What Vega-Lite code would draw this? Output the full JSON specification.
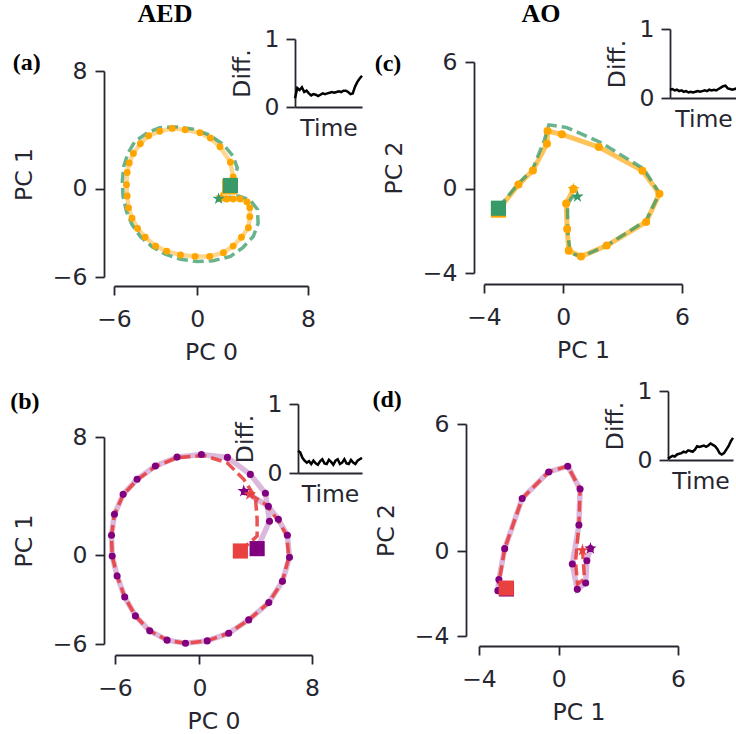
{
"$schema": "https://vega.github.io/schema/vega-lite/v6.json",
"width": 736, "height": 734,
"autosize": {"type": "none"},
"padding": 0,
"background": "white",
"datasets": {
"traj": [
{"p":"a","s":"O","x":2.35,"y":0.25},{"p":"a","s":"O","x":2.6,"y":0.8},{"p":"a","s":"O","x":2.4,"y":1.8},{"p":"a","s":"O","x":1.65,"y":2.85},{"p":"a","s":"O","x":0.95,"y":3.45},{"p":"a","s":"O","x":0.2,"y":3.8},{"p":"a","s":"O","x":-0.87,"y":4.0},{"p":"a","s":"O","x":-1.8,"y":4.1},{"p":"a","s":"O","x":-2.7,"y":3.9},{"p":"a","s":"O","x":-3.5,"y":3.6},{"p":"a","s":"O","x":-4.1,"y":3.05},{"p":"a","s":"O","x":-4.6,"y":2.4},{"p":"a","s":"O","x":-4.9,"y":1.75},{"p":"a","s":"O","x":-5.05,"y":1.1},{"p":"a","s":"O","x":-5.1,"y":0.27},{"p":"a","s":"O","x":-5.05,"y":-0.5},{"p":"a","s":"O","x":-4.95,"y":-1.3},{"p":"a","s":"O","x":-4.7,"y":-2.0},{"p":"a","s":"O","x":-4.3,"y":-2.7},{"p":"a","s":"O","x":-3.75,"y":-3.3},{"p":"a","s":"O","x":-3.0,"y":-3.9},{"p":"a","s":"O","x":-2.2,"y":-4.25},{"p":"a","s":"O","x":-1.2,"y":-4.5},{"p":"a","s":"O","x":-0.15,"y":-4.6},{"p":"a","s":"O","x":0.9,"y":-4.6},{"p":"a","s":"O","x":1.9,"y":-4.35},{"p":"a","s":"O","x":2.6,"y":-3.9},{"p":"a","s":"O","x":3.2,"y":-3.3},{"p":"a","s":"O","x":3.7,"y":-2.65},{"p":"a","s":"O","x":3.8,"y":-1.9},{"p":"a","s":"O","x":3.8,"y":-1.3},{"p":"a","s":"O","x":3.6,"y":-0.9},{"p":"a","s":"O","x":3.1,"y":-0.7},{"p":"a","s":"O","x":2.6,"y":-0.7},{"p":"a","s":"O","x":2.15,"y":-0.7},{"p":"a","s":"O","x":1.7,"y":-0.65},
{"p":"a","s":"G","x":2.45,"y":0.2},{"p":"a","s":"G","x":2.6,"y":0.6},{"p":"a","s":"G","x":2.9,"y":1.4},{"p":"a","s":"G","x":2.6,"y":2.2},{"p":"a","s":"G","x":1.9,"y":3.0},{"p":"a","s":"G","x":0.9,"y":3.65},{"p":"a","s":"G","x":-0.3,"y":4.05},{"p":"a","s":"G","x":-1.45,"y":4.2},{"p":"a","s":"G","x":-2.7,"y":4.15},{"p":"a","s":"G","x":-3.6,"y":3.8},{"p":"a","s":"G","x":-4.5,"y":3.2},{"p":"a","s":"G","x":-5.0,"y":2.4},{"p":"a","s":"G","x":-5.3,"y":1.5},{"p":"a","s":"G","x":-5.4,"y":0.5},{"p":"a","s":"G","x":-5.35,"y":-0.5},{"p":"a","s":"G","x":-5.1,"y":-1.55},{"p":"a","s":"G","x":-4.7,"y":-2.45},{"p":"a","s":"G","x":-4.1,"y":-3.25},{"p":"a","s":"G","x":-3.25,"y":-3.95},{"p":"a","s":"G","x":-2.3,"y":-4.45},{"p":"a","s":"G","x":-1.2,"y":-4.8},{"p":"a","s":"G","x":0.0,"y":-4.95},{"p":"a","s":"G","x":1.15,"y":-4.9},{"p":"a","s":"G","x":2.4,"y":-4.6},{"p":"a","s":"G","x":3.3,"y":-4.0},{"p":"a","s":"G","x":4.05,"y":-3.25},{"p":"a","s":"G","x":4.4,"y":-2.35},{"p":"a","s":"G","x":4.35,"y":-1.4},{"p":"a","s":"G","x":3.8,"y":-0.75},{"p":"a","s":"G","x":3.0,"y":-0.5},{"p":"a","s":"G","x":2.25,"y":-0.6},{"p":"a","s":"G","x":1.6,"y":-0.65},
{"p":"b","s":"P","x":4.1,"y":0.45},{"p":"b","s":"P","x":4.98,"y":2.3},{"p":"b","s":"P","x":4.69,"y":4.19},{"p":"b","s":"P","x":3.62,"y":5.47},{"p":"b","s":"P","x":1.99,"y":6.62},{"p":"b","s":"P","x":0.14,"y":6.82},{"p":"b","s":"P","x":-1.59,"y":6.64},{"p":"b","s":"P","x":-3.13,"y":6.04},{"p":"b","s":"P","x":-4.43,"y":5.14},{"p":"b","s":"P","x":-5.42,"y":4.12},{"p":"b","s":"P","x":-6.04,"y":2.77},{"p":"b","s":"P","x":-6.25,"y":1.35},{"p":"b","s":"P","x":-6.2,"y":-0.05},{"p":"b","s":"P","x":-5.85,"y":-1.4},{"p":"b","s":"P","x":-5.31,"y":-2.82},{"p":"b","s":"P","x":-4.55,"y":-4.1},{"p":"b","s":"P","x":-3.53,"y":-5.11},{"p":"b","s":"P","x":-2.3,"y":-5.74},{"p":"b","s":"P","x":-0.99,"y":-5.95},{"p":"b","s":"P","x":0.55,"y":-5.79},{"p":"b","s":"P","x":2.08,"y":-5.27},{"p":"b","s":"P","x":3.5,"y":-4.37},{"p":"b","s":"P","x":4.93,"y":-3.2},{"p":"b","s":"P","x":5.9,"y":-1.76},{"p":"b","s":"P","x":6.4,"y":-0.14},{"p":"b","s":"P","x":6.25,"y":1.35},{"p":"b","s":"P","x":5.61,"y":2.43},{"p":"b","s":"P","x":4.9,"y":3.31},{"p":"b","s":"P","x":3.2,"y":4.3},
{"p":"b","s":"R","x":2.91,"y":0.29},{"p":"b","s":"R","x":4.1,"y":1.3},{"p":"b","s":"R","x":4.1,"y":2.43},{"p":"b","s":"R","x":3.98,"y":3.9},{"p":"b","s":"R","x":3.15,"y":5.14},{"p":"b","s":"R","x":1.97,"y":6.26},{"p":"b","s":"R","x":0.3,"y":6.75},{"p":"b","s":"R","x":-1.59,"y":6.6},{"p":"b","s":"R","x":-3.13,"y":6.0},{"p":"b","s":"R","x":-4.43,"y":5.1},{"p":"b","s":"R","x":-5.42,"y":4.1},{"p":"b","s":"R","x":-6.04,"y":2.75},{"p":"b","s":"R","x":-6.25,"y":1.35},{"p":"b","s":"R","x":-6.2,"y":-0.05},{"p":"b","s":"R","x":-5.85,"y":-1.4},{"p":"b","s":"R","x":-5.31,"y":-2.82},{"p":"b","s":"R","x":-4.55,"y":-4.1},{"p":"b","s":"R","x":-3.53,"y":-5.11},{"p":"b","s":"R","x":-2.3,"y":-5.74},{"p":"b","s":"R","x":-0.99,"y":-5.95},{"p":"b","s":"R","x":0.55,"y":-5.79},{"p":"b","s":"R","x":2.08,"y":-5.27},{"p":"b","s":"R","x":3.5,"y":-4.37},{"p":"b","s":"R","x":4.93,"y":-3.2},{"p":"b","s":"R","x":5.9,"y":-1.76},{"p":"b","s":"R","x":6.35,"y":-0.14},{"p":"b","s":"R","x":6.2,"y":1.35},{"p":"b","s":"R","x":5.6,"y":2.35},{"p":"b","s":"R","x":4.7,"y":3.45},{"p":"b","s":"R","x":3.58,"y":4.12},
{"p":"c","s":"O","x":-3.27,"y":-1.0},{"p":"c","s":"O","x":-2.26,"y":0.19},{"p":"c","s":"O","x":-1.53,"y":0.86},{"p":"c","s":"O","x":-0.82,"y":2.13},{"p":"c","s":"O","x":-0.79,"y":2.73},{"p":"c","s":"O","x":-0.07,"y":2.57},{"p":"c","s":"O","x":1.8,"y":1.97},{"p":"c","s":"O","x":4.0,"y":0.85},{"p":"c","s":"O","x":4.86,"y":-0.24},{"p":"c","s":"O","x":4.19,"y":-1.58},{"p":"c","s":"O","x":2.2,"y":-2.7},{"p":"c","s":"O","x":0.9,"y":-3.22},{"p":"c","s":"O","x":0.28,"y":-2.94},{"p":"c","s":"O","x":0.2,"y":-1.92},{"p":"c","s":"O","x":0.15,"y":-0.71},{"p":"c","s":"O","x":0.52,"y":-0.02},
{"p":"c","s":"G","x":-3.27,"y":-0.92},{"p":"c","s":"G","x":-2.3,"y":0.2},{"p":"c","s":"G","x":-1.55,"y":0.9},{"p":"c","s":"G","x":-0.95,"y":2.3},{"p":"c","s":"G","x":-0.72,"y":3.02},{"p":"c","s":"G","x":0.19,"y":2.89},{"p":"c","s":"G","x":1.87,"y":2.2},{"p":"c","s":"G","x":4.06,"y":0.94},{"p":"c","s":"G","x":4.86,"y":-0.22},{"p":"c","s":"G","x":4.2,"y":-1.5},{"p":"c","s":"G","x":2.2,"y":-2.7},{"p":"c","s":"G","x":0.89,"y":-3.24},{"p":"c","s":"G","x":0.35,"y":-3.03},{"p":"c","s":"G","x":0.22,"y":-2.0},{"p":"c","s":"G","x":0.22,"y":-0.75},{"p":"c","s":"G","x":0.44,"y":-0.41},{"p":"c","s":"G","x":0.72,"y":-0.38},
{"p":"d","s":"P","x":-2.62,"y":-1.78},{"p":"d","s":"P","x":-3.05,"y":-1.86},{"p":"d","s":"P","x":-3.0,"y":-1.34},{"p":"d","s":"P","x":-2.71,"y":0.12},{"p":"d","s":"P","x":-1.83,"y":2.49},{"p":"d","s":"P","x":-0.5,"y":3.74},{"p":"d","s":"P","x":0.46,"y":4.01},{"p":"d","s":"P","x":1.08,"y":2.93},{"p":"d","s":"P","x":1.02,"y":1.23},{"p":"d","s":"P","x":0.69,"y":-0.6},{"p":"d","s":"P","x":0.94,"y":-1.8},{"p":"d","s":"P","x":1.36,"y":-1.5},{"p":"d","s":"P","x":1.42,"y":-0.45},{"p":"d","s":"P","x":1.6,"y":0.13},
{"p":"d","s":"R","x":-2.63,"y":-1.74},{"p":"d","s":"R","x":-3.0,"y":-1.5},{"p":"d","s":"R","x":-2.71,"y":0.12},{"p":"d","s":"R","x":-1.83,"y":2.49},{"p":"d","s":"R","x":-0.5,"y":3.74},{"p":"d","s":"R","x":0.46,"y":4.01},{"p":"d","s":"R","x":1.08,"y":2.93},{"p":"d","s":"R","x":1.02,"y":1.23},{"p":"d","s":"R","x":0.85,"y":-0.5},{"p":"d","s":"R","x":0.95,"y":-1.55},{"p":"d","s":"R","x":1.3,"y":-1.3},{"p":"d","s":"R","x":1.25,"y":-0.6},{"p":"d","s":"R","x":1.2,"y":0.05}
],
"ends": [
{"p":"a","s":"O","k":"start","x":2.35,"y":0.12},{"p":"a","s":"O","k":"end","x":1.75,"y":-0.6},{"p":"a","s":"G","k":"start","x":2.4,"y":0.22},{"p":"a","s":"G","k":"end","x":1.55,"y":-0.68},
{"p":"b","s":"P","k":"start","x":4.1,"y":0.45},{"p":"b","s":"P","k":"end","x":3.15,"y":4.34},{"p":"b","s":"R","k":"start","x":2.91,"y":0.29},{"p":"b","s":"R","k":"end","x":3.58,"y":4.12},
{"p":"c","s":"O","k":"start","x":-3.27,"y":-1.02},{"p":"c","s":"O","k":"end","x":0.52,"y":-0.02},{"p":"c","s":"G","k":"start","x":-3.27,"y":-0.93},{"p":"c","s":"G","k":"end","x":0.72,"y":-0.38},
{"p":"d","s":"P","k":"start","x":-2.62,"y":-1.78},{"p":"d","s":"P","k":"end","x":1.6,"y":0.13},{"p":"d","s":"R","k":"start","x":-2.63,"y":-1.74},{"p":"d","s":"R","k":"end","x":1.2,"y":0.05}
],
"labels": [
{"p":"a","k":"head","label":"AED","x":-2.32,"y":11.85},{"p":"a","k":"tag","label":"(a)","x":-12.3,"y":8.54},
{"p":"c","k":"head","label":"AO","x":-1.12,"y":8.27},{"p":"c","k":"tag","label":"(c)","x":-8.85,"y":5.9},
{"p":"b","k":"tag","label":"(b)","x":-12.4,"y":10.37},
{"p":"d","k":"tag","label":"(d)","x":-8.62,"y":7.13}
],
"diff": [
{"p":"a","t":0,"v":0.13},{"p":"a","t":1,"v":0.28},{"p":"a","t":2,"v":0.25},{"p":"a","t":3,"v":0.29},{"p":"a","t":4,"v":0.22},{"p":"a","t":5,"v":0.24},{"p":"a","t":6,"v":0.2},{"p":"a","t":7,"v":0.17},{"p":"a","t":8,"v":0.19},{"p":"a","t":9,"v":0.18},{"p":"a","t":10,"v":0.16},{"p":"a","t":11,"v":0.18},{"p":"a","t":12,"v":0.2},{"p":"a","t":13,"v":0.19},{"p":"a","t":14,"v":0.2},{"p":"a","t":15,"v":0.21},{"p":"a","t":16,"v":0.22},{"p":"a","t":17,"v":0.21},{"p":"a","t":18,"v":0.22},{"p":"a","t":19,"v":0.23},{"p":"a","t":20,"v":0.22},{"p":"a","t":21,"v":0.24},{"p":"a","t":22,"v":0.24},{"p":"a","t":23,"v":0.22},{"p":"a","t":24,"v":0.19},{"p":"a","t":25,"v":0.2},{"p":"a","t":26,"v":0.3},{"p":"a","t":27,"v":0.37},{"p":"a","t":28,"v":0.42},{"p":"a","t":29,"v":0.46},
{"p":"b","t":0,"v":0.32},{"p":"b","t":1,"v":0.3},{"p":"b","t":2,"v":0.22},{"p":"b","t":3,"v":0.18},{"p":"b","t":4,"v":0.15},{"p":"b","t":5,"v":0.17},{"p":"b","t":6,"v":0.13},{"p":"b","t":7,"v":0.18},{"p":"b","t":8,"v":0.14},{"p":"b","t":9,"v":0.12},{"p":"b","t":10,"v":0.17},{"p":"b","t":11,"v":0.2},{"p":"b","t":12,"v":0.14},{"p":"b","t":13,"v":0.13},{"p":"b","t":14,"v":0.19},{"p":"b","t":15,"v":0.16},{"p":"b","t":16,"v":0.12},{"p":"b","t":17,"v":0.18},{"p":"b","t":18,"v":0.2},{"p":"b","t":19,"v":0.13},{"p":"b","t":20,"v":0.15},{"p":"b","t":21,"v":0.2},{"p":"b","t":22,"v":0.14},{"p":"b","t":23,"v":0.13},{"p":"b","t":24,"v":0.19},{"p":"b","t":25,"v":0.15},{"p":"b","t":26,"v":0.13},{"p":"b","t":27,"v":0.18},{"p":"b","t":28,"v":0.2},{"p":"b","t":29,"v":0.22},
{"p":"c","t":0,"v":0.12},{"p":"c","t":1,"v":0.13},{"p":"c","t":2,"v":0.11},{"p":"c","t":3,"v":0.12},{"p":"c","t":4,"v":0.1},{"p":"c","t":5,"v":0.11},{"p":"c","t":6,"v":0.09},{"p":"c","t":7,"v":0.1},{"p":"c","t":8,"v":0.08},{"p":"c","t":9,"v":0.09},{"p":"c","t":10,"v":0.08},{"p":"c","t":11,"v":0.09},{"p":"c","t":12,"v":0.1},{"p":"c","t":13,"v":0.09},{"p":"c","t":14,"v":0.1},{"p":"c","t":15,"v":0.11},{"p":"c","t":16,"v":0.1},{"p":"c","t":17,"v":0.12},{"p":"c","t":18,"v":0.11},{"p":"c","t":19,"v":0.12},{"p":"c","t":20,"v":0.11},{"p":"c","t":21,"v":0.13},{"p":"c","t":22,"v":0.15},{"p":"c","t":23,"v":0.17},{"p":"c","t":24,"v":0.18},{"p":"c","t":25,"v":0.14},{"p":"c","t":26,"v":0.13},{"p":"c","t":27,"v":0.12},{"p":"c","t":28,"v":0.13},{"p":"c","t":29,"v":0.14},
{"p":"d","t":0,"v":0.02},{"p":"d","t":1,"v":0.04},{"p":"d","t":2,"v":0.06},{"p":"d","t":3,"v":0.05},{"p":"d","t":4,"v":0.08},{"p":"d","t":5,"v":0.09},{"p":"d","t":6,"v":0.1},{"p":"d","t":7,"v":0.12},{"p":"d","t":8,"v":0.11},{"p":"d","t":9,"v":0.14},{"p":"d","t":10,"v":0.13},{"p":"d","t":11,"v":0.12},{"p":"d","t":12,"v":0.15},{"p":"d","t":13,"v":0.2},{"p":"d","t":14,"v":0.19},{"p":"d","t":15,"v":0.2},{"p":"d","t":16,"v":0.21},{"p":"d","t":17,"v":0.19},{"p":"d","t":18,"v":0.21},{"p":"d","t":19,"v":0.24},{"p":"d","t":20,"v":0.22},{"p":"d","t":21,"v":0.2},{"p":"d","t":22,"v":0.16},{"p":"d","t":23,"v":0.1},{"p":"d","t":24,"v":0.08},{"p":"d","t":25,"v":0.1},{"p":"d","t":26,"v":0.15},{"p":"d","t":27,"v":0.2},{"p":"d","t":28,"v":0.27},{"p":"d","t":29,"v":0.32}
]
},
"layer": [
{"data":{"name":"traj"},"transform":[{"filter":"datum.p=='a' && datum.s=='O'"}],"mark":{"type":"line","color":"#ffa500","strokeWidth":4.5,"opacity":0.45},
 "encoding":{"x":{"field":"x","type":"quantitative","scale":{"domain":[-6,8],"range":[114,308],"nice":false,"zero":false},"axis":{"title":"PC 0","orient":"bottom","offset":-448,"values":[-6,0,8],"labelPadding":12,"titlePadding":10}},"y":{"field":"y","type":"quantitative","scale":{"domain":[-6,8],"range":[277,71],"nice":false,"zero":false},"axis":{"title":"PC 1","orient":"left","offset":-104,"values":[-6,0,8],"labelPadding":8,"titlePadding":16}},"order":{"value":null}}},
{"data":{"name":"traj"},"transform":[{"filter":"datum.p=='a' && datum.s=='G'"}],"mark":{"type":"line","color":"#379a68","strokeWidth":3.5,"opacity":0.75,"strokeDash":[11,5]},
 "encoding":{"x":{"field":"x","type":"quantitative","scale":{"domain":[-6,8],"range":[114,308],"nice":false,"zero":false},"axis":null},"y":{"field":"y","type":"quantitative","scale":{"domain":[-6,8],"range":[277,71],"nice":false,"zero":false},"axis":null},"order":{"value":null}}},
{"data":{"name":"traj"},"transform":[{"filter":"datum.p=='a' && datum.s=='O'"}],"mark":{"type":"circle","color":"#ffa500","size":48,"opacity":1},
 "encoding":{"x":{"field":"x","type":"quantitative","scale":{"domain":[-6,8],"range":[114,308],"nice":false,"zero":false},"axis":null},"y":{"field":"y","type":"quantitative","scale":{"domain":[-6,8],"range":[277,71],"nice":false,"zero":false},"axis":null}}},
{"data":{"name":"ends"},"transform":[{"filter":"datum.p=='a' && datum.s=='O' && datum.k=='start'"}],"mark":{"type":"point","shape":"square","filled":true,"color":"#ffa500","size":230,"opacity":1},
 "encoding":{"x":{"field":"x","type":"quantitative","scale":{"domain":[-6,8],"range":[114,308],"nice":false,"zero":false},"axis":null},"y":{"field":"y","type":"quantitative","scale":{"domain":[-6,8],"range":[277,71],"nice":false,"zero":false},"axis":null}}},
{"data":{"name":"ends"},"transform":[{"filter":"datum.p=='a' && datum.s=='O' && datum.k=='end'"}],"mark":{"type":"point","shape":"M0,-1L0.2245,-0.309L0.951,-0.309L0.363,0.118L0.588,0.809L0,0.382L-0.588,0.809L-0.363,0.118L-0.951,-0.309L-0.2245,-0.309Z","filled":true,"color":"#ffa500","size":170,"opacity":1},
 "encoding":{"x":{"field":"x","type":"quantitative","scale":{"domain":[-6,8],"range":[114,308],"nice":false,"zero":false},"axis":null},"y":{"field":"y","type":"quantitative","scale":{"domain":[-6,8],"range":[277,71],"nice":false,"zero":false},"axis":null}}},
{"data":{"name":"ends"},"transform":[{"filter":"datum.p=='a' && datum.s=='G' && datum.k=='start'"}],"mark":{"type":"point","shape":"square","filled":true,"color":"#379a68","size":230,"opacity":1},
 "encoding":{"x":{"field":"x","type":"quantitative","scale":{"domain":[-6,8],"range":[114,308],"nice":false,"zero":false},"axis":null},"y":{"field":"y","type":"quantitative","scale":{"domain":[-6,8],"range":[277,71],"nice":false,"zero":false},"axis":null}}},
{"data":{"name":"ends"},"transform":[{"filter":"datum.p=='a' && datum.s=='G' && datum.k=='end'"}],"mark":{"type":"point","shape":"M0,-1L0.2245,-0.309L0.951,-0.309L0.363,0.118L0.588,0.809L0,0.382L-0.588,0.809L-0.363,0.118L-0.951,-0.309L-0.2245,-0.309Z","filled":true,"color":"#379a68","size":170,"opacity":1},
 "encoding":{"x":{"field":"x","type":"quantitative","scale":{"domain":[-6,8],"range":[114,308],"nice":false,"zero":false},"axis":null},"y":{"field":"y","type":"quantitative","scale":{"domain":[-6,8],"range":[277,71],"nice":false,"zero":false},"axis":null}}},
{"data":{"name":"labels"},"transform":[{"filter":"datum.p=='a' && datum.k=='head'"}],"mark":{"type":"text","font":"Liberation Serif","fontWeight":"bold","fontSize":26,"color":"#000","align":"center","baseline":"middle"},
 "encoding":{"text":{"field":"label"},"x":{"field":"x","type":"quantitative","scale":{"domain":[-6,8],"range":[114,308],"nice":false,"zero":false},"axis":null},"y":{"field":"y","type":"quantitative","scale":{"domain":[-6,8],"range":[277,71],"nice":false,"zero":false},"axis":null}}},
{"data":{"name":"labels"},"transform":[{"filter":"datum.p=='a' && datum.k=='tag'"}],"mark":{"type":"text","font":"Liberation Serif","fontWeight":"bold","fontSize":24,"color":"#000","align":"center","baseline":"middle"},
 "encoding":{"text":{"field":"label"},"x":{"field":"x","type":"quantitative","scale":{"domain":[-6,8],"range":[114,308],"nice":false,"zero":false},"axis":null},"y":{"field":"y","type":"quantitative","scale":{"domain":[-6,8],"range":[277,71],"nice":false,"zero":false},"axis":null}}},
{"data":{"name":"diff"},"transform":[{"filter":"datum.p=='a'"}],"mark":{"type":"line","color":"#000","strokeWidth":2.5},
 "encoding":{"x":{"field":"t","type":"quantitative","scale":{"domain":[0,29],"range":[295,362],"nice":false,"zero":false},"axis":{"title":"Time","orient":"bottom","offset":-627,"ticks":false,"labels":false,"titlePadding":9}},"y":{"field":"v","type":"quantitative","scale":{"domain":[0,1],"range":[107,39],"nice":false,"zero":false},"axis":{"title":"Diff.","orient":"left","offset":-295,"values":[0,1],"format":"d","labelPadding":7,"titlePadding":10}}}},

{"data":{"name":"traj"},"transform":[{"filter":"datum.p=='b' && datum.s=='P'"}],"mark":{"type":"line","color":"#800080","strokeWidth":5.5,"opacity":0.28},
 "encoding":{"x":{"field":"x","type":"quantitative","scale":{"domain":[-6,8],"range":[115,312],"nice":false,"zero":false},"axis":{"title":"PC 0","orient":"bottom","offset":-79,"values":[-6,0,8],"labelPadding":12,"titlePadding":10}},"y":{"field":"y","type":"quantitative","scale":{"domain":[-6,8],"range":[644,437],"nice":false,"zero":false},"axis":{"title":"PC 1","orient":"left","offset":-104,"values":[-6,0,8],"labelPadding":8,"titlePadding":16}},"order":{"value":null}}},
{"data":{"name":"traj"},"transform":[{"filter":"datum.p=='b' && datum.s=='R'"}],"mark":{"type":"line","color":"#e8413f","strokeWidth":3.5,"opacity":0.9,"strokeDash":[11,5]},
 "encoding":{"x":{"field":"x","type":"quantitative","scale":{"domain":[-6,8],"range":[115,312],"nice":false,"zero":false},"axis":null},"y":{"field":"y","type":"quantitative","scale":{"domain":[-6,8],"range":[644,437],"nice":false,"zero":false},"axis":null},"order":{"value":null}}},
{"data":{"name":"traj"},"transform":[{"filter":"datum.p=='b' && datum.s=='P'"}],"mark":{"type":"circle","color":"#800080","size":50,"opacity":1},
 "encoding":{"x":{"field":"x","type":"quantitative","scale":{"domain":[-6,8],"range":[115,312],"nice":false,"zero":false},"axis":null},"y":{"field":"y","type":"quantitative","scale":{"domain":[-6,8],"range":[644,437],"nice":false,"zero":false},"axis":null}}},
{"data":{"name":"ends"},"transform":[{"filter":"datum.p=='b' && datum.s=='P' && datum.k=='start'"}],"mark":{"type":"point","shape":"square","filled":true,"color":"#800080","size":230,"opacity":1},
 "encoding":{"x":{"field":"x","type":"quantitative","scale":{"domain":[-6,8],"range":[115,312],"nice":false,"zero":false},"axis":null},"y":{"field":"y","type":"quantitative","scale":{"domain":[-6,8],"range":[644,437],"nice":false,"zero":false},"axis":null}}},
{"data":{"name":"ends"},"transform":[{"filter":"datum.p=='b' && datum.s=='P' && datum.k=='end'"}],"mark":{"type":"point","shape":"M0,-1L0.2245,-0.309L0.951,-0.309L0.363,0.118L0.588,0.809L0,0.382L-0.588,0.809L-0.363,0.118L-0.951,-0.309L-0.2245,-0.309Z","filled":true,"color":"#800080","size":170,"opacity":1},
 "encoding":{"x":{"field":"x","type":"quantitative","scale":{"domain":[-6,8],"range":[115,312],"nice":false,"zero":false},"axis":null},"y":{"field":"y","type":"quantitative","scale":{"domain":[-6,8],"range":[644,437],"nice":false,"zero":false},"axis":null}}},
{"data":{"name":"ends"},"transform":[{"filter":"datum.p=='b' && datum.s=='R' && datum.k=='start'"}],"mark":{"type":"point","shape":"square","filled":true,"color":"#e8413f","size":230,"opacity":1},
 "encoding":{"x":{"field":"x","type":"quantitative","scale":{"domain":[-6,8],"range":[115,312],"nice":false,"zero":false},"axis":null},"y":{"field":"y","type":"quantitative","scale":{"domain":[-6,8],"range":[644,437],"nice":false,"zero":false},"axis":null}}},
{"data":{"name":"ends"},"transform":[{"filter":"datum.p=='b' && datum.s=='R' && datum.k=='end'"}],"mark":{"type":"point","shape":"M0,-1L0.2245,-0.309L0.951,-0.309L0.363,0.118L0.588,0.809L0,0.382L-0.588,0.809L-0.363,0.118L-0.951,-0.309L-0.2245,-0.309Z","filled":true,"color":"#e8413f","size":170,"opacity":1},
 "encoding":{"x":{"field":"x","type":"quantitative","scale":{"domain":[-6,8],"range":[115,312],"nice":false,"zero":false},"axis":null},"y":{"field":"y","type":"quantitative","scale":{"domain":[-6,8],"range":[644,437],"nice":false,"zero":false},"axis":null}}},
{"data":{"name":"labels"},"transform":[{"filter":"datum.p=='b' && datum.k=='tag'"}],"mark":{"type":"text","font":"Liberation Serif","fontWeight":"bold","fontSize":24,"color":"#000","align":"center","baseline":"middle"},
 "encoding":{"text":{"field":"label"},"x":{"field":"x","type":"quantitative","scale":{"domain":[-6,8],"range":[115,312],"nice":false,"zero":false},"axis":null},"y":{"field":"y","type":"quantitative","scale":{"domain":[-6,8],"range":[644,437],"nice":false,"zero":false},"axis":null}}},
{"data":{"name":"diff"},"transform":[{"filter":"datum.p=='b'"}],"mark":{"type":"line","color":"#000","strokeWidth":2.5},
 "encoding":{"x":{"field":"t","type":"quantitative","scale":{"domain":[0,29],"range":[298,362],"nice":false,"zero":false},"axis":{"title":"Time","orient":"bottom","offset":-261,"ticks":false,"labels":false,"titlePadding":9}},"y":{"field":"v","type":"quantitative","scale":{"domain":[0,1],"range":[473,404],"nice":false,"zero":false},"axis":{"title":"Diff.","orient":"left","offset":-298,"values":[0,1],"format":"d","labelPadding":7,"titlePadding":10}}}},

{"data":{"name":"traj"},"transform":[{"filter":"datum.p=='c' && datum.s=='O'"}],"mark":{"type":"line","color":"#ffa500","strokeWidth":5,"opacity":0.65},
 "encoding":{"x":{"field":"x","type":"quantitative","scale":{"domain":[-4,6],"range":[484,682],"nice":false,"zero":false},"axis":{"title":"PC 1","orient":"bottom","offset":-450,"values":[-4,0,6],"labelPadding":12,"titlePadding":10}},"y":{"field":"y","type":"quantitative","scale":{"domain":[-4,6],"range":[273,62],"nice":false,"zero":false},"axis":{"title":"PC 2","orient":"left","offset":-474,"values":[-4,0,6],"labelPadding":8,"titlePadding":16}},"order":{"value":null}}},
{"data":{"name":"traj"},"transform":[{"filter":"datum.p=='c' && datum.s=='G'"}],"mark":{"type":"line","color":"#379a68","strokeWidth":3.5,"opacity":0.75,"strokeDash":[11,5]},
 "encoding":{"x":{"field":"x","type":"quantitative","scale":{"domain":[-4,6],"range":[484,682],"nice":false,"zero":false},"axis":null},"y":{"field":"y","type":"quantitative","scale":{"domain":[-4,6],"range":[273,62],"nice":false,"zero":false},"axis":null},"order":{"value":null}}},
{"data":{"name":"traj"},"transform":[{"filter":"datum.p=='c' && datum.s=='O'"}],"mark":{"type":"circle","color":"#ffa500","size":65,"opacity":1},
 "encoding":{"x":{"field":"x","type":"quantitative","scale":{"domain":[-4,6],"range":[484,682],"nice":false,"zero":false},"axis":null},"y":{"field":"y","type":"quantitative","scale":{"domain":[-4,6],"range":[273,62],"nice":false,"zero":false},"axis":null}}},
{"data":{"name":"ends"},"transform":[{"filter":"datum.p=='c' && datum.s=='O' && datum.k=='start'"}],"mark":{"type":"point","shape":"square","filled":true,"color":"#ffa500","size":230,"opacity":1},
 "encoding":{"x":{"field":"x","type":"quantitative","scale":{"domain":[-4,6],"range":[484,682],"nice":false,"zero":false},"axis":null},"y":{"field":"y","type":"quantitative","scale":{"domain":[-4,6],"range":[273,62],"nice":false,"zero":false},"axis":null}}},
{"data":{"name":"ends"},"transform":[{"filter":"datum.p=='c' && datum.s=='O' && datum.k=='end'"}],"mark":{"type":"point","shape":"M0,-1L0.2245,-0.309L0.951,-0.309L0.363,0.118L0.588,0.809L0,0.382L-0.588,0.809L-0.363,0.118L-0.951,-0.309L-0.2245,-0.309Z","filled":true,"color":"#ffa500","size":170,"opacity":1},
 "encoding":{"x":{"field":"x","type":"quantitative","scale":{"domain":[-4,6],"range":[484,682],"nice":false,"zero":false},"axis":null},"y":{"field":"y","type":"quantitative","scale":{"domain":[-4,6],"range":[273,62],"nice":false,"zero":false},"axis":null}}},
{"data":{"name":"ends"},"transform":[{"filter":"datum.p=='c' && datum.s=='G' && datum.k=='start'"}],"mark":{"type":"point","shape":"square","filled":true,"color":"#379a68","size":230,"opacity":1},
 "encoding":{"x":{"field":"x","type":"quantitative","scale":{"domain":[-4,6],"range":[484,682],"nice":false,"zero":false},"axis":null},"y":{"field":"y","type":"quantitative","scale":{"domain":[-4,6],"range":[273,62],"nice":false,"zero":false},"axis":null}}},
{"data":{"name":"ends"},"transform":[{"filter":"datum.p=='c' && datum.s=='G' && datum.k=='end'"}],"mark":{"type":"point","shape":"M0,-1L0.2245,-0.309L0.951,-0.309L0.363,0.118L0.588,0.809L0,0.382L-0.588,0.809L-0.363,0.118L-0.951,-0.309L-0.2245,-0.309Z","filled":true,"color":"#379a68","size":170,"opacity":1},
 "encoding":{"x":{"field":"x","type":"quantitative","scale":{"domain":[-4,6],"range":[484,682],"nice":false,"zero":false},"axis":null},"y":{"field":"y","type":"quantitative","scale":{"domain":[-4,6],"range":[273,62],"nice":false,"zero":false},"axis":null}}},
{"data":{"name":"labels"},"transform":[{"filter":"datum.p=='c' && datum.k=='head'"}],"mark":{"type":"text","font":"Liberation Serif","fontWeight":"bold","fontSize":26,"color":"#000","align":"center","baseline":"middle"},
 "encoding":{"text":{"field":"label"},"x":{"field":"x","type":"quantitative","scale":{"domain":[-4,6],"range":[484,682],"nice":false,"zero":false},"axis":null},"y":{"field":"y","type":"quantitative","scale":{"domain":[-4,6],"range":[273,62],"nice":false,"zero":false},"axis":null}}},
{"data":{"name":"labels"},"transform":[{"filter":"datum.p=='c' && datum.k=='tag'"}],"mark":{"type":"text","font":"Liberation Serif","fontWeight":"bold","fontSize":24,"color":"#000","align":"center","baseline":"middle"},
 "encoding":{"text":{"field":"label"},"x":{"field":"x","type":"quantitative","scale":{"domain":[-4,6],"range":[484,682],"nice":false,"zero":false},"axis":null},"y":{"field":"y","type":"quantitative","scale":{"domain":[-4,6],"range":[273,62],"nice":false,"zero":false},"axis":null}}},
{"data":{"name":"diff"},"transform":[{"filter":"datum.p=='c'"}],"mark":{"type":"line","color":"#000","strokeWidth":2.5},
 "encoding":{"x":{"field":"t","type":"quantitative","scale":{"domain":[0,29],"range":[670,737],"nice":false,"zero":false},"axis":{"title":"Time","orient":"bottom","offset":-636,"ticks":false,"labels":false,"titlePadding":9}},"y":{"field":"v","type":"quantitative","scale":{"domain":[0,1],"range":[98,29],"nice":false,"zero":false},"axis":{"title":"Diff.","orient":"left","offset":-670,"values":[0,1],"format":"d","labelPadding":7,"titlePadding":10}}}},

{"data":{"name":"traj"},"transform":[{"filter":"datum.p=='d' && datum.s=='P'"}],"mark":{"type":"line","color":"#800080","strokeWidth":5.5,"opacity":0.28},
 "encoding":{"x":{"field":"x","type":"quantitative","scale":{"domain":[-4,6],"range":[479,678],"nice":false,"zero":false},"axis":{"title":"PC 1","orient":"bottom","offset":-88,"values":[-4,0,6],"labelPadding":12,"titlePadding":10}},"y":{"field":"y","type":"quantitative","scale":{"domain":[-4,6],"range":[636,424],"nice":false,"zero":false},"axis":{"title":"PC 2","orient":"left","offset":-466,"values":[-4,0,6],"labelPadding":8,"titlePadding":16}},"order":{"value":null}}},
{"data":{"name":"traj"},"transform":[{"filter":"datum.p=='d' && datum.s=='R'"}],"mark":{"type":"line","color":"#e8413f","strokeWidth":3.5,"opacity":0.9,"strokeDash":[11,5]},
 "encoding":{"x":{"field":"x","type":"quantitative","scale":{"domain":[-4,6],"range":[479,678],"nice":false,"zero":false},"axis":null},"y":{"field":"y","type":"quantitative","scale":{"domain":[-4,6],"range":[636,424],"nice":false,"zero":false},"axis":null},"order":{"value":null}}},
{"data":{"name":"traj"},"transform":[{"filter":"datum.p=='d' && datum.s=='P'"}],"mark":{"type":"circle","color":"#800080","size":50,"opacity":1},
 "encoding":{"x":{"field":"x","type":"quantitative","scale":{"domain":[-4,6],"range":[479,678],"nice":false,"zero":false},"axis":null},"y":{"field":"y","type":"quantitative","scale":{"domain":[-4,6],"range":[636,424],"nice":false,"zero":false},"axis":null}}},
{"data":{"name":"ends"},"transform":[{"filter":"datum.p=='d' && datum.s=='P' && datum.k=='start'"}],"mark":{"type":"point","shape":"square","filled":true,"color":"#800080","size":230,"opacity":1},
 "encoding":{"x":{"field":"x","type":"quantitative","scale":{"domain":[-4,6],"range":[479,678],"nice":false,"zero":false},"axis":null},"y":{"field":"y","type":"quantitative","scale":{"domain":[-4,6],"range":[636,424],"nice":false,"zero":false},"axis":null}}},
{"data":{"name":"ends"},"transform":[{"filter":"datum.p=='d' && datum.s=='P' && datum.k=='end'"}],"mark":{"type":"point","shape":"M0,-1L0.2245,-0.309L0.951,-0.309L0.363,0.118L0.588,0.809L0,0.382L-0.588,0.809L-0.363,0.118L-0.951,-0.309L-0.2245,-0.309Z","filled":true,"color":"#800080","size":170,"opacity":1},
 "encoding":{"x":{"field":"x","type":"quantitative","scale":{"domain":[-4,6],"range":[479,678],"nice":false,"zero":false},"axis":null},"y":{"field":"y","type":"quantitative","scale":{"domain":[-4,6],"range":[636,424],"nice":false,"zero":false},"axis":null}}},
{"data":{"name":"ends"},"transform":[{"filter":"datum.p=='d' && datum.s=='R' && datum.k=='start'"}],"mark":{"type":"point","shape":"square","filled":true,"color":"#e8413f","size":230,"opacity":1},
 "encoding":{"x":{"field":"x","type":"quantitative","scale":{"domain":[-4,6],"range":[479,678],"nice":false,"zero":false},"axis":null},"y":{"field":"y","type":"quantitative","scale":{"domain":[-4,6],"range":[636,424],"nice":false,"zero":false},"axis":null}}},
{"data":{"name":"ends"},"transform":[{"filter":"datum.p=='d' && datum.s=='R' && datum.k=='end'"}],"mark":{"type":"point","shape":"M0,-1L0.2245,-0.309L0.951,-0.309L0.363,0.118L0.588,0.809L0,0.382L-0.588,0.809L-0.363,0.118L-0.951,-0.309L-0.2245,-0.309Z","filled":true,"color":"#e8413f","size":170,"opacity":1},
 "encoding":{"x":{"field":"x","type":"quantitative","scale":{"domain":[-4,6],"range":[479,678],"nice":false,"zero":false},"axis":null},"y":{"field":"y","type":"quantitative","scale":{"domain":[-4,6],"range":[636,424],"nice":false,"zero":false},"axis":null}}},
{"data":{"name":"labels"},"transform":[{"filter":"datum.p=='d' && datum.k=='tag'"}],"mark":{"type":"text","font":"Liberation Serif","fontWeight":"bold","fontSize":24,"color":"#000","align":"center","baseline":"middle"},
 "encoding":{"text":{"field":"label"},"x":{"field":"x","type":"quantitative","scale":{"domain":[-4,6],"range":[479,678],"nice":false,"zero":false},"axis":null},"y":{"field":"y","type":"quantitative","scale":{"domain":[-4,6],"range":[636,424],"nice":false,"zero":false},"axis":null}}},
{"data":{"name":"diff"},"transform":[{"filter":"datum.p=='d'"}],"mark":{"type":"line","color":"#000","strokeWidth":2.5},
 "encoding":{"x":{"field":"t","type":"quantitative","scale":{"domain":[0,29],"range":[668,733],"nice":false,"zero":false},"axis":{"title":"Time","orient":"bottom","offset":-274,"ticks":false,"labels":false,"titlePadding":9}},"y":{"field":"v","type":"quantitative","scale":{"domain":[0,1],"range":[460,391],"nice":false,"zero":false},"axis":{"title":"Diff.","orient":"left","offset":-668,"values":[0,1],"format":"d","labelPadding":7,"titlePadding":10}}}}
],
"resolve": {"scale": {"x": "independent", "y": "independent"}},
"config": {
"view": {"stroke": null},
"axis": {"grid": false, "domainColor": "#262630", "tickColor": "#262630", "labelColor": "#262630", "titleColor": "#262630", "domainWidth": 1.8, "tickWidth": 1.8, "tickSize": 9, "labelFont": "DejaVu Sans", "titleFont": "DejaVu Sans", "labelFontSize": 23.5, "titleFontSize": 23.5, "titleFontWeight": "normal", "labelFlush": false, "labelOverlap": false}
}
}
